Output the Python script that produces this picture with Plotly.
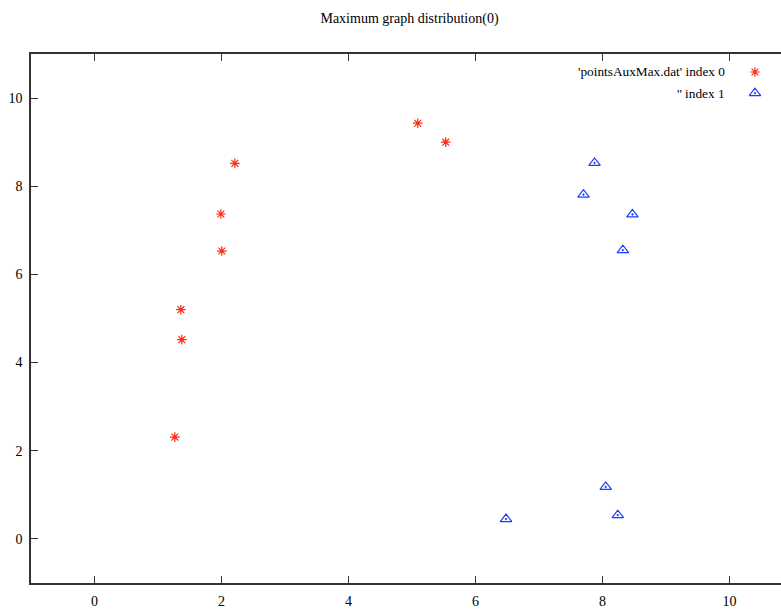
import plotly.graph_objects as go

# Data
red_x = [1.265, 1.375, 1.36, 2.005, 1.99, 2.21, 5.09, 5.53]
red_y = [2.31, 4.52, 5.20, 6.53, 7.37, 8.52, 9.43, 9.00]
blue_x = [7.874, 7.70, 8.47, 8.32, 8.05, 8.24, 6.48]
blue_y = [8.53, 7.81, 7.36, 6.55, 1.18, 0.54, 0.45]
tick_vals = [0, 2, 4, 6, 8, 10]
legend_labels = ["'pointsAuxMax.dat' index 0", "'' index 1"]

RED = "#ff2a10"
BLUE = "#1a3cff"
FONT = "Liberation Serif"
AX = "#333333"

red_marker = dict(symbol="asterisk-open", size=8, color=RED, line=dict(color=RED, width=1.2))
blue_marker = dict(symbol="triangle-up-open-dot", size=10, color=BLUE, line=dict(color=BLUE, width=1.2))

fig = go.Figure()
fig.add_trace(go.Scatter(x=red_x, y=red_y, mode="markers", name=legend_labels[0],
                         marker=red_marker, hoverinfo="x+y"))
fig.add_trace(go.Scatter(x=blue_x, y=blue_y, mode="markers", name=legend_labels[1],
                         marker=blue_marker, hoverinfo="x+y"))

# Gnuplot-style legend: text right-aligned, sample marker on the right
leg_y = [0.966, 0.926]
fig.add_trace(go.Scatter(x=[0.9653], y=[leg_y[0]], xaxis="x2", yaxis="y2", mode="markers",
                         marker=red_marker, hoverinfo="skip", showlegend=False))
fig.add_trace(go.Scatter(x=[0.9653], y=[leg_y[1]], xaxis="x2", yaxis="y2", mode="markers",
                         marker=blue_marker, hoverinfo="skip", showlegend=False))
for lab, yy in zip(legend_labels, leg_y):
    fig.add_annotation(x=0.928, y=yy, xref="x2", yref="y2", text=lab, showarrow=False,
                       xanchor="right", yanchor="middle",
                       font=dict(family=FONT, size=13.3, color="#000000"))

fig.update_layout(
    width=781, height=609,
    margin=dict(l=31, r=0, t=54, b=26, autoexpand=False),
    paper_bgcolor="white", plot_bgcolor="white",
    showlegend=False,
    font=dict(family=FONT, size=14, color="#000000"),
    title=dict(text="Maximum graph distribution(0)", xref="container", yref="container",
               x=409.5 / 781, y=1 - 18 / 609, xanchor="center", yanchor="middle",
               font=dict(family=FONT, size=14, color="#000000")),
    xaxis=dict(range=[-1, 10.81], tickvals=tick_vals, ticks="inside", ticklen=7,
               tickcolor=AX, tickwidth=1, showline=True, linecolor=AX, linewidth=1.5,
               mirror="ticks", showgrid=False, zeroline=False, automargin=False,
               ticklabelstandoff=4),
    yaxis=dict(range=[-1, 11], tickvals=tick_vals, ticks="inside", ticklen=7,
               tickcolor=AX, tickwidth=1, showline=True, linecolor=AX, linewidth=1.5,
               mirror=False, showgrid=False, zeroline=False, automargin=False,
               ticklabelstandoff=4),
    xaxis2=dict(range=[0, 1], overlaying="x", visible=False, fixedrange=True),
    yaxis2=dict(range=[0, 1], overlaying="y", visible=False, fixedrange=True),
)

fig.write_html("out.html", config={"displayModeBar": False},
               post_script="document.body.style.margin='0px';document.body.style.overflow='hidden';")
